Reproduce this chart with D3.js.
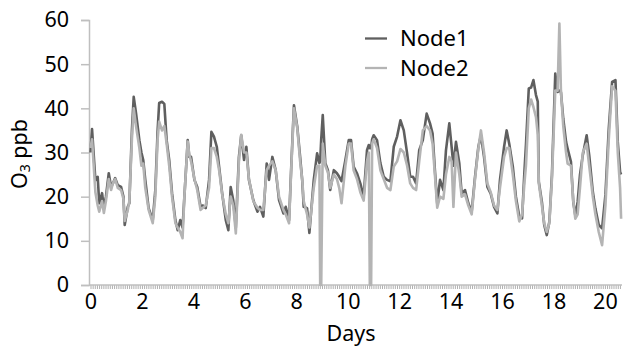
<!DOCTYPE html>
<html>
<head>
<meta charset="utf-8">
<script src="https://cdn.jsdelivr.net/npm/d3@7"></script>
<style>
  body { margin: 0; background: #fff; }
  text { font-family: "Noto Sans", "Open Sans", sans-serif; fill: #000; }
</style>
</head>
<body>
<script>
// time of each reading, in days
var days = [0, 0.06, 0.19, 0.28, 0.34, 0.45, 0.52, 0.60, 0.71, 0.80, 0.87, 0.96, 1.06, 1.19, 1.28, 1.33, 1.45, 1.51, 1.61, 1.68,
  1.77, 1.90, 1.98, 2.05, 2.13, 2.26, 2.42, 2.52, 2.61, 2.67, 2.78, 2.87, 2.96, 3.06, 3.17, 3.30, 3.39, 3.49, 3.58, 3.65,
  3.78, 3.84, 3.91, 4.04, 4.15, 4.28, 4.37, 4.48, 4.61, 4.70, 4.80, 4.91, 5.00, 5.12, 5.26, 5.36, 5.45, 5.55, 5.65, 5.77,
  5.86, 5.97, 6.06, 6.16, 6.33, 6.49, 6.59, 6.72, 6.85, 6.94, 7.07, 7.20, 7.33, 7.50, 7.59, 7.72, 7.81, 7.91, 8.04, 8.15,
  8.23, 8.29, 8.42, 8.51, 8.68, 8.81, 8.90, 8.93, 8.97, 9.03, 9.13, 9.23, 9.32, 9.46, 9.58, 9.67, 9.76, 9.91, 10.04, 10.13,
  10.23, 10.36, 10.49, 10.62, 10.75, 10.82, 10.86, 10.91, 10.95, 11.01, 11.14, 11.27, 11.40, 11.53, 11.66, 11.79, 11.92, 12.05, 12.18, 12.31,
  12.43, 12.54, 12.66, 12.78, 12.92, 13.07, 13.20, 13.30, 13.39, 13.48, 13.59, 13.72, 13.82, 13.95, 14.04, 14.11, 14.21, 14.34, 14.43, 14.56,
  14.69, 14.82, 14.95, 15.08, 15.18, 15.30, 15.43, 15.56, 15.69, 15.82, 15.92, 16.08, 16.18, 16.28, 16.42, 16.54, 16.67, 16.78, 16.87, 16.93,
  17.04, 17.13, 17.22, 17.32, 17.39, 17.43, 17.55, 17.64, 17.74, 17.84, 17.94, 18.07, 18.16, 18.23, 18.29, 18.38, 18.49, 18.55, 18.68, 18.77,
  18.85, 18.94, 19.03, 19.14, 19.29, 19.39, 19.53, 19.63, 19.76, 19.89, 20.02, 20.15, 20.28, 20.41, 20.50, 20.59, 20.63]

var node1 = [30, 35.3, 23.7, 24.5, 18.5, 20.8, 17.5, 20, 25.3, 22.2, 23, 24.2, 22.6, 22.2, 20, 13.6, 17.7, 18.5, 35, 42.6,
  38.9, 32.8, 30, 28.3, 23.8, 17.4, 14.7, 21.5, 35, 41.2, 41.5, 41, 32.8, 28.3, 20.8, 14.7, 12.4, 14.7, 13, 20,
  32.8, 29, 29, 23.8, 22.2, 17.7, 18, 17.4, 23.8, 34.7, 33.6, 31.3, 26.8, 20.7, 14.7, 12.4, 22.2, 19.2, 13, 29,
  33.9, 28.3, 31.3, 23.8, 19.2, 16.6, 17.7, 15.5, 27.5, 23.8, 29, 26, 19.2, 16.2, 17.7, 14.7, 27.5, 40.7, 35.8, 29,
  23.8, 17.7, 17.4, 11.8, 23.8, 29.8, 27.6, 28, 33, 38.5, 27.6, 26, 21.5, 26, 25.3, 24.5, 23.5, 28.3, 32.8, 32.8,
  26.8, 25.3, 23, 20, 30.5, 31.7, 31, 31, 33, 33.9, 32.8, 27.6, 24.5, 23.8, 23.5, 31.3, 33.6, 37.3, 35, 29.8,
  24.5, 24.5, 23, 30.5, 32.8, 38.8, 36.6, 34.3, 26, 18.5, 23.8, 21.5, 30.5, 36.6, 31.3, 27, 32.4, 27.5, 20.7, 21.5,
  18.5, 16.6, 24.5, 31.3, 33.9, 29, 22.2, 20.7, 17.7, 16.2, 23.8, 31.3, 35, 32, 26.8, 20, 15.5, 15.1, 25.6, 31.7,
  44.5, 44.7, 46.4, 43, 41.5, 23.4, 18.8, 13.6, 11.3, 14.3, 24.9, 47.9, 43.7, 44, 43.7, 37.7, 32.4, 30.9, 27.9, 18.8,
  15.8, 18.8, 24.9, 29.4, 33.9, 29.4, 21.1, 17.3, 13.6, 12.8, 20.4, 35.4, 46, 46.4, 32.4, 25.6, 25]

var node2 = [31, 33, 21, 18, 16.6, 19, 16.3, 19, 24, 21.5, 23, 24, 22, 21.5, 19.5, 14.5, 17, 19, 33, 40,
  36, 31, 27, 27.5, 22, 17, 14, 20, 33, 37, 35, 36, 32, 27, 20, 14, 13, 12, 10.6, 20,
  32.5, 29.5, 28, 24, 21.5, 17, 17.5, 18, 22, 31, 31, 29, 26, 20.5, 16, 14, 20, 18, 11.7, 28,
  34, 30, 30, 24, 19, 17.5, 17, 17, 26, 27, 28, 26, 20, 17, 16, 14, 27, 40, 35.5, 28,
  24, 19, 16, 13, 22, 27, 27, 0, 0, 32, 27, 25.5, 22, 25, 24, 22, 18.5, 27, 32, 32,
  26, 24, 21, 19.1, 28, 30, 0, 0, 32, 33, 31, 26, 24, 22, 21.5, 26.8, 28, 30.8, 30, 27,
  23, 22, 21.5, 28, 35, 36, 35, 32, 25, 17.5, 20, 19.5, 25, 29, 28, 17.7, 30, 25, 20, 20.5,
  18, 16, 24, 31, 35, 30, 23, 21, 18, 17, 22, 29, 31, 31, 25, 19, 14.4, 16, 23, 27,
  40, 42, 40.3, 38, 34, 23, 18, 14, 12, 14, 24, 44, 44, 59.2, 44, 36, 30, 27.5, 27, 19,
  15, 16, 22, 30, 32, 27, 20, 16, 12, 9, 18, 33, 45, 44, 30, 22, 15]

var seriesNames = ['Node1', 'Node2']
var seriesColors = ['#5f5f5f', '#b4b4b4']
var yTicks = [0, 10, 20, 30, 40, 50, 60]
var xLabels = [0, 2, 4, 6, 8, 10, 12, 14, 16, 18, 20]

var width = 624
var height = 349

var x = d3.scaleLinear().domain([0, 20.68]).range([90.5, 622.4])
var y = d3.scaleLinear().domain([0, 60]).range([285, 20])

var svg = d3.select('body').append('svg').attr('width', width).attr('height', height)

// y axis
var yAxis = d3.axisLeft(y).tickValues(yTicks).tickSize(8).tickPadding(12)
var gy = svg.append('g').attr('transform', 'translate(89,0)').call(yAxis)
gy.select('.domain').attr('stroke', '#bfbfbf').attr('stroke-width', 1.5)
gy.selectAll('.tick line').attr('stroke', '#bfbfbf').attr('stroke-width', 1.5)
gy.selectAll('.tick text').attr('font-size', 21.5).attr('fill', '#000')
  .style('font-family', '"Noto Sans", sans-serif')

// x axis: dense minor ticks, then the day labels
var minor = d3.range(0, 20.66, 1 / 12)
var xMinor = d3.axisBottom(x).tickValues(minor).tickSize(4).tickFormat('')
var gx = svg.append('g').attr('transform', 'translate(0,285)').call(xMinor)
gx.select('.domain').remove()
gx.selectAll('.tick line').attr('stroke', '#b0b0b0').attr('stroke-width', 1)
svg.append('line').attr('x1', 89).attr('x2', 622).attr('y1', 285).attr('y2', 285)
  .attr('stroke', '#bfbfbf').attr('stroke-width', 1.5)

var xAxis = d3.axisBottom(x).tickValues(xLabels).tickSize(0).tickPadding(9)
var gl = svg.append('g').attr('transform', 'translate(0,285)').call(xAxis)
gl.select('.domain').remove()
gl.selectAll('.tick text').attr('font-size', 21.5).attr('fill', '#000')
  .style('font-family', '"Noto Sans", sans-serif')

// lines
var line = d3.line().x(function(d, i) { return x(days[i]) }).y(function(d) { return y(d) })
svg.append('path').datum(node1).attr('d', line).attr('fill', 'none')
  .attr('stroke', seriesColors[0]).attr('stroke-width', 2.6).attr('stroke-linejoin', 'round')
svg.append('path').datum(node2).attr('d', line).attr('fill', 'none')
  .attr('stroke', seriesColors[1]).attr('stroke-width', 2.6).attr('stroke-linejoin', 'round')

// titles
svg.append('text').attr('x', 351).attr('y', 341).attr('text-anchor', 'middle')
  .attr('font-size', 21.5).text('Days')

var yt = svg.append('text').attr('transform', 'translate(27,154) rotate(-90)')
  .attr('text-anchor', 'middle').attr('font-size', 21.5)
yt.append('tspan').text('O')
yt.append('tspan').attr('font-size', 14).attr('dy', 3).text('3')
yt.append('tspan').attr('dy', -3).text(' ppb')

// legend
var legend = svg.selectAll('.legend').data(seriesNames).enter().append('g')
  .attr('transform', function(d, i) { return 'translate(365,' + (38.5 + i * 29.5) + ')' })
legend.append('line').attr('x1', 0).attr('x2', 22).attr('y1', 0).attr('y2', 0)
  .attr('stroke', function(d, i) { return seriesColors[i] }).attr('stroke-width', 2.3)
legend.append('text').attr('x', 35).attr('dy', '0.35em').attr('font-size', 22).text(function(d) { return d })
</script>
</body>
</html>
